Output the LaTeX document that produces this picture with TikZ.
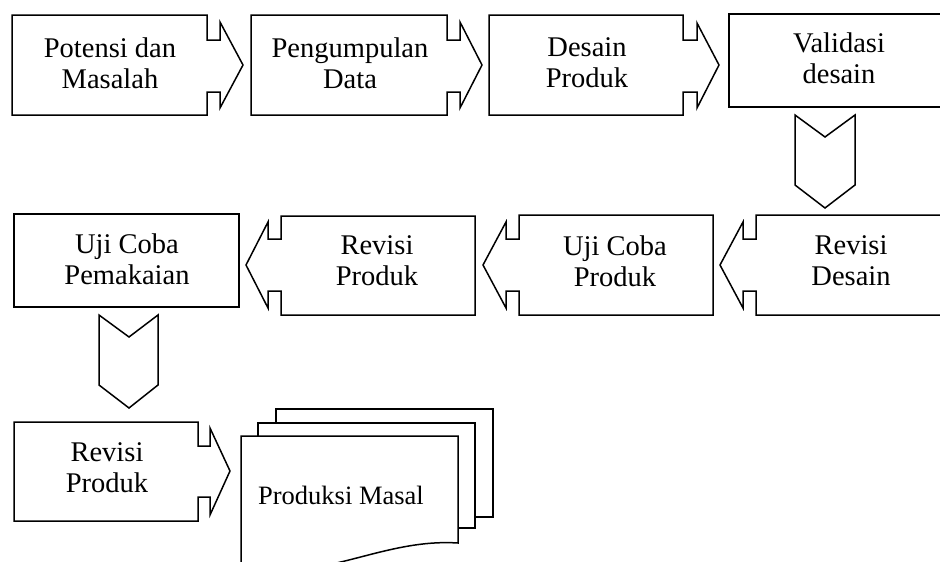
\documentclass[tikz,border=0pt]{standalone}
\usepackage{fontspec}
\setmainfont{Liberation Serif}
\begin{document}
\begin{tikzpicture}[x=1pt,y=-1pt,
  shp/.style={draw=black, line width=1.5pt, line join=miter, fill=white},
  lbl/.style={align=center, font=\fontsize{28.5}{31}\selectfont, inner sep=0pt}]
\useasboundingbox (0,0) rectangle (940,562);
% Row 1: right-pointing arrow boxes
\draw[shp] (12,15) -- (207,15) -- (207,40) -- (220,40) -- (220,22) -- (243,65) -- (220,108) -- (220,92) -- (207,92) -- (207,115) -- (12,115) -- cycle;
\draw[shp] (251,15) -- (447,15) -- (447,40) -- (460,40) -- (460,22) -- (482,65) -- (460,108) -- (460,92) -- (447,92) -- (447,115) -- (251,115) -- cycle;
\draw[shp] (489,15) -- (683,15) -- (683,40) -- (697,40) -- (697,23) -- (719,65) -- (697,108) -- (697,92) -- (683,92) -- (683,115) -- (489,115) -- cycle;
\draw[shp] (729,14) rectangle (949,107);
\node[lbl] (potensi) at (110,63) {Potensi dan\\Masalah};
\node[lbl] (pengumpulan) at (350,63) {Pengumpulan\\Data};
\node[lbl] (desain) at (587,63) {Desain\\Produk};
\node[lbl] (validasi) at (839,58) {Validasi\\desain};
% down chevron 1
\draw[shp] (795,115) -- (825,137) -- (855,115) -- (855,185) -- (825,208) -- (795,185) -- cycle;
% Row 2: left-pointing arrow boxes
\draw[shp] (14,214) rectangle (239,307);
\draw[shp] (475,216) -- (281,216) -- (281,239) -- (268,239) -- (268,222) -- (246,265) -- (268,308) -- (268,291) -- (281,291) -- (281,315) -- (475,315) -- cycle;
\draw[shp] (713,215) -- (519,215) -- (519,239) -- (506,239) -- (506,222) -- (483,265) -- (506,308) -- (506,291) -- (519,291) -- (519,315) -- (713,315) -- cycle;
\draw[shp] (949,215) -- (756,215) -- (756,239) -- (743,239) -- (743,222) -- (720,265) -- (743,308) -- (743,291) -- (756,291) -- (756,315) -- (949,315) -- cycle;
\node[lbl] (ujipakai) at (127,259) {Uji Coba\\Pemakaian};
\node[lbl] (revprod1) at (377,261) {Revisi\\Produk};
\node[lbl] (ujiprod) at (615,261) {Uji Coba\\Produk};
\node[lbl] (revdes) at (851,261) {Revisi\\Desain};
% down chevron 2
\draw[shp] (99,315) -- (129,337) -- (158,315) -- (158,385) -- (129,408) -- (99,385) -- cycle;
% Row 3
\draw[shp] (14,422) -- (198,422) -- (198,446) -- (210,446) -- (210,428) -- (230,471) -- (210,515) -- (210,497) -- (198,497) -- (198,521) -- (14,521) -- cycle;
\node[lbl] (revprod2) at (107,468) {Revisi\\Produk};
% multi-document
\draw[shp] (276,409) rectangle (493,517);
\draw[shp] (258,423) rectangle (475,528);
\draw[shp] (241,436) -- (458,436) -- (458,543) .. controls (380,538) and (320,585) .. (241,566) -- cycle;
\node[lbl, font=\fontsize{26.5}{30}\selectfont] (produksi) at (341,495) {Produksi Masal};
\end{tikzpicture}
\end{document}
